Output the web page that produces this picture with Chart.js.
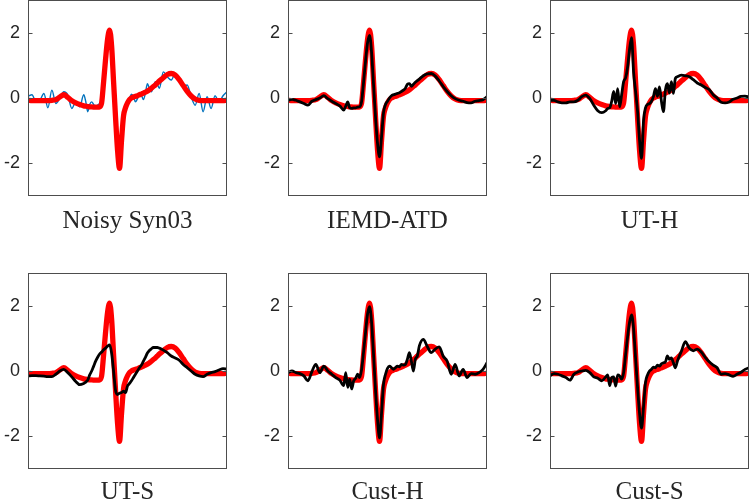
<!DOCTYPE html>
<html>
<head>
<meta charset="utf-8">
<script src="https://cdn.jsdelivr.net/npm/chart.js@4.4.1/dist/chart.umd.min.js"></script>
<style>
  html, body { margin: 0; padding: 0; background: #fff; }
  body { position: relative; width: 750px; height: 502px; overflow: hidden; }
  canvas { position: absolute; }
</style>
</head>
<body>
<script>
// sample positions (percent of the beat window), shared by every trace
const xs = [0,2,4,6,8,10,12,14,16,18,20,22,24,26,28,
  29,30,31,32,33,34,35,36,37,38,39,40,41,42,43,44,45,46,47,48,49,50,51,52,53,54,55,56,57,58,59,60,61,62,63,64,65,66,
  68,70,72,74,76,78,80,82,84,86,88,90,92,94,96,98,100];

// clean Syn03 beat (red)
const clean = [-0.07,-0.08,-0.08,-0.08,-0.08,-0.08,-0.07,-0.05,0.03,0.1,0.02,-0.08,-0.15,-0.2,-0.24,
  -0.25,-0.26,-0.27,-0.27,-0.28,-0.28,-0.28,-0.27,
  -0.15,0.5,1.2,1.8,2.08,1.6,0.5,-0.6,-1.6,-2.15,
  -1.3,-0.55,-0.3,-0.15,-0.05,0.0,0.03,0.05,0.07,0.1,
  0.12,0.15,0.18,0.21,0.25,0.3,0.35,0.4,0.46,0.52,
  0.62,0.72,0.75,0.7,0.56,0.38,0.2,0.06,-0.03,-0.07,-0.08,-0.08,-0.08,-0.08,-0.08,-0.08,-0.07];

// noisy input (blue)
const noisy = [0.05,0.1,-0.12,-0.07,0.14,-0.3,0.24,-0.17,0.0,0.19,0.09,-0.32,-0.12,-0.27,0.1,
  -0.1,-0.42,-0.2,-0.12,-0.2,-0.27,-0.22,-0.17,
  -0.1,0.55,1.25,1.8,2.05,1.6,0.5,-0.6,-1.6,-2.1,
  -1.3,-0.5,-0.25,-0.1,0.0,0.12,0.05,-0.12,-0.02,0.1,
  0.08,-0.05,0.15,0.44,0.3,0.19,0.35,0.5,0.42,0.3,
  0.8,0.65,0.55,0.75,0.6,0.34,0.4,0.04,-0.22,0.14,-0.42,0.04,-0.32,0.07,-0.12,0.07,0.19];

// denoised outputs (black)
const iemdAtd = [-0.07,-0.04,-0.07,-0.12,-0.17,-0.22,-0.1,-0.05,0.0,0.07,-0.02,-0.1,-0.17,-0.24,-0.37,
  -0.25,-0.12,-0.3,-0.32,-0.3,-0.3,-0.28,-0.27,
  -0.1,0.5,1.15,1.7,1.92,1.4,0.4,-0.6,-1.4,-1.8,
  -1.2,-0.45,-0.2,-0.1,0.0,0.07,0.1,0.12,0.14,0.16,
  0.2,0.24,0.3,0.42,0.44,0.36,0.42,0.48,0.53,0.58,
  0.68,0.74,0.75,0.67,0.52,0.35,0.2,0.07,-0.02,-0.07,-0.1,-0.14,-0.15,-0.1,-0.08,-0.05,0.04];

const utH = [-0.07,-0.07,-0.12,-0.15,-0.15,-0.12,-0.12,-0.07,0.04,0.09,-0.02,-0.22,-0.39,-0.45,-0.39,
  -0.32,-0.3,-0.1,0.2,-0.17,0.29,-0.27,0.1,
  0.5,0.62,0.95,1.5,1.85,0.8,0.2,-0.4,-1.3,-1.85,
  -0.7,-0.3,-0.2,-0.17,-0.1,0.05,0.29,0.05,0.34,-0.1,
  -0.42,0.25,0.44,0.15,0.5,0.14,0.6,0.65,0.68,0.7,
  0.68,0.65,0.56,0.46,0.4,0.32,0.26,0.1,0.0,-0.13,-0.15,-0.12,-0.04,0.0,0.05,0.06,0.03];

const utS = [-0.15,-0.14,-0.14,-0.15,-0.16,-0.17,-0.17,-0.1,0.0,0.05,-0.05,-0.18,-0.32,-0.42,-0.38,
  -0.34,-0.28,-0.12,0.0,0.15,0.3,0.42,0.52,
  0.58,0.65,0.7,0.76,0.8,0.55,0.0,-0.6,-0.72,-0.68,
  -0.66,-0.62,-0.66,-0.46,-0.38,-0.3,-0.2,-0.1,0.0,0.1,
  0.18,0.3,0.42,0.55,0.63,0.68,0.72,0.72,0.72,0.7,
  0.64,0.56,0.46,0.4,0.33,0.2,0.1,0.0,-0.1,-0.15,-0.17,-0.1,-0.05,-0.02,0.03,0.07,0.06];

const custH = [-0.05,0.0,-0.05,-0.08,-0.15,-0.3,-0.02,0.2,-0.05,0.15,0.0,-0.1,-0.2,-0.28,-0.45,
  -0.05,-0.5,-0.25,-0.55,-0.3,-0.22,-0.1,-0.2,
  0.05,0.6,1.2,1.75,1.97,1.5,0.5,-0.6,-1.5,-2.05,
  -1.3,-0.4,-0.1,0.08,0.15,0.1,0.05,0.1,0.15,0.13,
  0.2,0.18,0.2,0.36,0.56,0.3,0.0,0.36,0.46,0.77,
  0.97,0.75,0.56,0.67,0.74,0.45,0.3,-0.1,0.2,-0.15,0.05,-0.2,-0.08,-0.1,-0.05,0.05,0.25];

const custS = [-0.15,-0.08,-0.1,-0.15,-0.2,-0.28,-0.1,-0.03,0.0,0.02,-0.05,-0.18,-0.22,-0.3,-0.18,
  -0.12,-0.45,-0.2,-0.18,-0.46,-0.12,-0.15,-0.25,
  -0.05,0.5,1.05,1.5,1.72,1.3,0.4,-0.5,-1.3,-1.75,
  -1.1,-0.35,-0.12,0.0,0.05,0.12,0.1,0.18,0.15,0.22,
  0.25,0.28,0.46,0.36,0.4,0.25,0.1,0.3,0.46,0.6,
  0.9,0.7,0.62,0.67,0.58,0.42,0.28,0.18,0.1,-0.1,-0.08,-0.12,-0.16,-0.1,-0.04,0.05,0.1];

const titles = ["Noisy Syn03", "IEMD-ATD", "UT-H", "UT-S", "Cust-H", "Cust-S"];
const outputs = [noisy, iemdAtd, utH, utS, custH, custS];
const yTicks = [-2, 0, 2];

// layout
const plotLefts = [28, 288, 550];
const axisW = 40, plotW = 199;

const pts = ys => xs.map((x, i) => ({ x: x, y: ys[i] }));

// matlab style box with inward ticks on both sides
const boxPlugin = {
  id: 'box',
  afterDraw(chart) {
    const { ctx, chartArea: a } = chart;
    const y = chart.scales.y;
    const l = Math.round(a.left) + 0.5, r = Math.round(a.right) - 0.5;
    const t = Math.round(a.top) + 0.5, b = Math.round(a.bottom) - 0.5;
    ctx.save();
    ctx.strokeStyle = '#4d4d4d';
    ctx.lineWidth = 1;
    ctx.strokeRect(l, t, r - l, b - t);
    ctx.beginPath();
    yTicks.forEach(v => {
      const py = Math.round(y.getPixelForValue(v)) + 0.5;
      ctx.moveTo(l, py); ctx.lineTo(l + 4, py);
      ctx.moveTo(r, py); ctx.lineTo(r - 4, py);
    });
    ctx.stroke();
    ctx.restore();
  }
};

titles.forEach((title, i) => {
  const col = i % 3, row = Math.floor(i / 3);
  const cv = document.createElement('canvas');
  cv.width = axisW * 2 + plotW;
  cv.height = row ? 270 : 250;
  cv.style.left = (plotLefts[col] - axisW) + 'px';
  cv.style.top = (row ? 250 : 0) + 'px';
  document.body.appendChild(cv);

  const first = i === 0;
  const datasets = [
    {
      data: pts(clean),
      borderColor: '#ff0000',
      borderWidth: 5.3,
      order: first ? 0 : 1
    },
    {
      data: pts(outputs[i]),
      borderColor: first ? '#0072bd' : '#000000',
      borderWidth: first ? 1.4 : 2.8,
      order: first ? 1 : 0
    }
  ];
  datasets.forEach(d => {
    d.pointRadius = 0;
    d.cubicInterpolationMode = 'monotone';
    d.borderJoinStyle = 'round';
    d.borderCapStyle = 'round';
    d.clip = 0;
  });

  new Chart(cv, {
    type: 'line',
    data: { datasets },
    options: {
      responsive: false,
      animation: false,
      events: [],
      layout: { padding: { top: row ? 23 : 0, right: axisW, left: 0, bottom: 0 } },
      scales: {
        x: { type: 'linear', min: 0, max: 100, display: false },
        y: {
          min: -3, max: 3,
          afterBuildTicks: s => { s.ticks = yTicks.map(v => ({ value: v })); },
          afterFit: s => { s.width = axisW; s.paddingTop = 0; s.paddingBottom = 0; },
          grid: { display: false, drawTicks: false },
          border: { display: false },
          ticks: {
            font: { family: 'Liberation Sans', size: 18 },
            color: '#262626',
            padding: 8
          }
        }
      },
      plugins: {
        legend: { display: false },
        tooltip: { enabled: false },
        title: {
          display: true,
          fullSize: false,
          text: title,
          position: 'bottom',
          color: '#262626',
          font: { family: 'Liberation Serif', size: 25, weight: 'normal' },
          padding: row ? { top: 8, bottom: 13 } : { top: 10, bottom: 14 }
        }
      }
    },
    plugins: [boxPlugin]
  });
});
</script>
</body>
</html>
